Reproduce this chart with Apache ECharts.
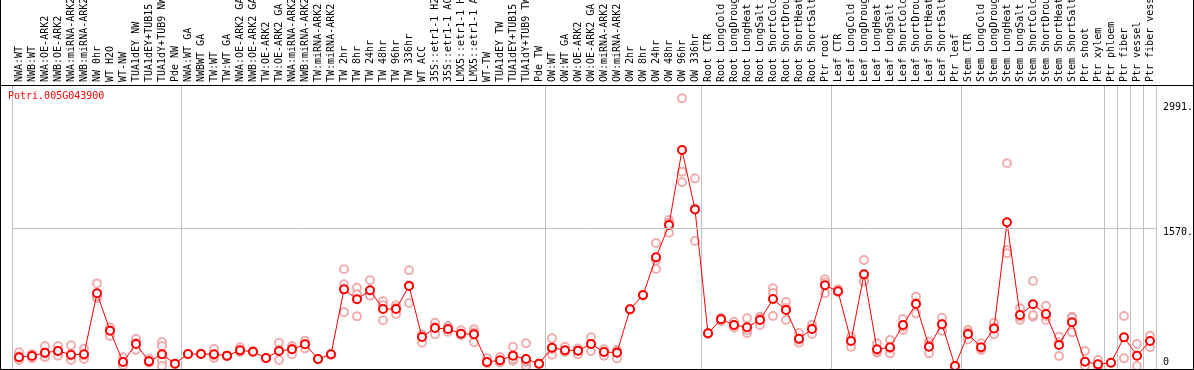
<!DOCTYPE html>
<html><head><meta charset="utf-8">
<script src="https://cdn.jsdelivr.net/npm/echarts@6/dist/echarts.min.js"></script>
<style>html,body{margin:0;padding:0;background:#fff}#c{width:1194px;height:370px}</style>
</head><body><div id="c"></div><script>
const geneName = 'Potri.005G043900';
const categories = [
 'NWA:WT','NWB:WT','NWA:OE-ARK2','NWB:OE-ARK2','NWA:miRNA-ARK2','NWB:miRNA-ARK2','NW 0hr','WT H2O','WT-NW','TUA1dEY NW','TUA1dEY+TUB15 NW','TUA1dY+TUB9 NW','Pde NW',
 'NWA:WT GA','NWBWT GA','TW:WT','TW:WT GA','NWA:OE-ARK2 GA','NWB:OE-ARK2 GA','TW:OE-ARK2','TW:OE-ARK2 GA','NWA:miRNA-ARK2 GA','NWB:miRNA-ARK2 GA','TW:miRNA-ARK2','TW:miRNA-ARK2 GA',
 'TW 2hr','TW 8hr','TW 24hr','TW 48hr','TW 96hr','TW 336hr','WT ACC','35S::etr1-1 H2O','35S::etr1-1 ACC','LMX5::etr1-1 H2O','LMX5::etr1-1 ACC','WT-TW','TUA1dEY TW','TUA1dEY+TUB15 TW','TUA1dY+TUB9 TW','Pde TW',
 'OW:WT','OW:WT GA','OW:OE-ARK2','OW:OE-ARK2 GA','OW:miRNA-ARK2','OW:miRNA-ARK2 GA','OW 2hr','OW 8hr','OW 24hr','OW 48hr','OW 96hr','OW 336hr',
 'Root CTR','Root LongCold','Root LongDrought','Root LongHeat','Root LongSalt','Root ShortCold','Root ShortDrought','Root ShortHeat','Root ShortSalt','Ptr root',
 'Leaf CTR','Leaf LongCold','Leaf LongDrought','Leaf LongHeat','Leaf LongSalt','Leaf ShortCold','Leaf ShortDrought','Leaf ShortHeat','Leaf ShortSalt','Ptr leaf',
 'Stem CTR','Stem LongCold','Stem LongDrought','Stem LongHeat','Stem LongSalt','Stem ShortCold','Stem ShortDrought','Stem ShortHeat','Stem ShortSalt','Ptr shoot','Ptr xylem',
 'Ptr phloem','Ptr fiber','Ptr vessel','Ptr fiber vessel'
];
const means = [
 99,114,152,171,129,133,827,402,46,250,53,133,27,
 137,137,134,118,178,163,91,171,190,247,80,133,
 872,759,861,648,648,910,330,432,421,368,360,46,65,118,80,27,
 209,180,175,250,159,152,645,808,1236,1604,2457,1782,
 372,531,466,440,523,762,637,311,421,918,
 850,284,1043,190,213,466,705,220,474,0,
 364,213,428,1635,580,702,592,239,497,49,19,
 38,326,118,284
];
const replicates = [
 [156,68,110],[137,87,120],[228,99,140],[228,118,170],[235,68,120],[197,80,120],[940,770,790],[417,341,440],[99,40,10],[311,182,260],[83,38,50],[273,228,61,0],[27,20],
 [137,130],[137,140],[197,91,120],[118,110],[213,159,170],[163,170],[91,85],[265,68,180],[228,133,200],[288,201,250],[80,75],[133,125],
 [1100,929,611],[891,816,565],[975,808,800],[736,520,690],[690,592,660],[1089,717,920],[360,265,340],[493,360,440],[455,390,420],[406,368,350],[417,270,380],[87,46,30],[102,40,60],[220,61,80],[258,30,0,50],[27,20],
 [315,129,190],[220,160,170],[133,175,200],[326,171,250],[118,159,190],[182,87,170],[645,640],[808,800],[1399,1104,1200],[1661,1517,1630],[3045,2211,2090],[2135,1422,1790],
 [372,365],[510,550,531],[504,436,460],[543,372,410],[561,463,540],[884,569,830],[728,523,660],[375,265,300],[470,364,430],[986,827,950],
 [873,840],[334,220,290],[1206,978,960],[258,152,170],[296,144,200],[535,410,450],[789,599,720],[277,144,240],[550,474,400],[0],
 [410,303,380],[258,182,200],[493,360,430],[2306,1320,1282],[656,523,560],[967,561,580],[686,523,570],[334,114,270],[561,383,550],[171,0],[68,0],
 [38],[569,87],[250,0],[345,213]
];
const yTickValues = [0, 1570, 2991];
const yTickLabels = ['0', '1570.', '2991.'];
const groupStarts = [0, 13, 41, 53, 63, 73, 84, 85, 86, 87];

const repData = [];
replicates.forEach((arr, i) => arr.forEach(v => repData.push([i, v])));

const FONT = 'DejaVu Sans Mono';
const chart = echarts.init(document.getElementById('c'), null, {renderer: 'canvas'});
chart.setOption({
  animation: false,
  backgroundColor: '#fff',
  title: {
    text: geneName, left: 8, top: 91, padding: 0,
    textStyle: {color: '#ff0000', fontFamily: FONT, fontSize: 10, fontWeight: 'normal'}
  },
  grid: {left: 12.5, right: 37.5, top: 85, bottom: 1, containLabel: false, outerBoundsMode: 'none'},
  xAxis: {
    type: 'category', position: 'top', data: categories, boundaryGap: true,
    axisLine: {show: false},
    axisTick: {show: true, length: 85, interval: (idx) => groupStarts.includes(idx),
      lineStyle: {color: '#c0c0c0', width: 1}},
    splitLine: {show: true, interval: (idx) => groupStarts.includes(idx),
      lineStyle: {color: '#c0c0c0', width: 1}},
    axisLabel: {interval: 0, rotate: 90, margin: 3, color: '#000', fontFamily: FONT, fontSize: 10, hideOverlap: false}
  },
  yAxis: {
    type: 'value', position: 'right', min: -34, max: 3197,
    axisLine: {show: false}, axisTick: {show: false}, splitLine: {show: false},
    axisLabel: {
      customValues: yTickValues, margin: 6.5, color: '#000',
      formatter: (v) => {
        const i = yTickValues.indexOf(v);
        const t = i >= 0 ? yTickLabels[i] : '';
        return v === 0 ? '{b|' + t + '}' : '{t|' + t + '}';
      },
      rich: {
        b: {fontFamily: FONT, fontSize: 10, color: '#000', padding: [0, 0, 8, 0]},
        t: {fontFamily: FONT, fontSize: 10, color: '#000', padding: [8, 0, 0, 0]}
      }
    }
  },
  graphic: [
    {type: 'line', z: 100, shape: {x1: 0.5, y1: 0, x2: 0.5, y2: 370}, style: {stroke: '#000', lineWidth: 1}},
    {type: 'line', z: 100, shape: {x1: 1193.5, y1: 0, x2: 1193.5, y2: 370}, style: {stroke: '#000', lineWidth: 1}},
    {type: 'line', z: 100, shape: {x1: 0, y1: 85.5, x2: 1194, y2: 85.5}, style: {stroke: '#000', lineWidth: 1}},
    {type: 'line', z: 100, shape: {x1: 0, y1: 369.5, x2: 1194, y2: 369.5}, style: {stroke: '#000', lineWidth: 1}}
  ],
  series: [
    {
      type: 'scatter', data: repData, z: 2,
      symbol: 'emptyCircle', symbolSize: 8,
      itemStyle: {color: '#ee9a9a', borderColor: '#ee9a9a', borderWidth: 1.5}
    },
    {
      type: 'line', data: means, z: 3,
      symbol: 'emptyCircle', symbolSize: 8, showAllSymbol: true,
      lineStyle: {color: '#ff0000', width: 1},
      itemStyle: {color: '#ff0000', borderColor: '#ff0000', borderWidth: 1.5},
      markLine: {
        silent: true, symbol: 'none', label: {show: false},
        lineStyle: {color: '#c0c0c0', type: 'solid', width: 1},
        data: [{yAxis: yTickValues[1]}]
      }
    }
  ]
});
</script></body></html>
